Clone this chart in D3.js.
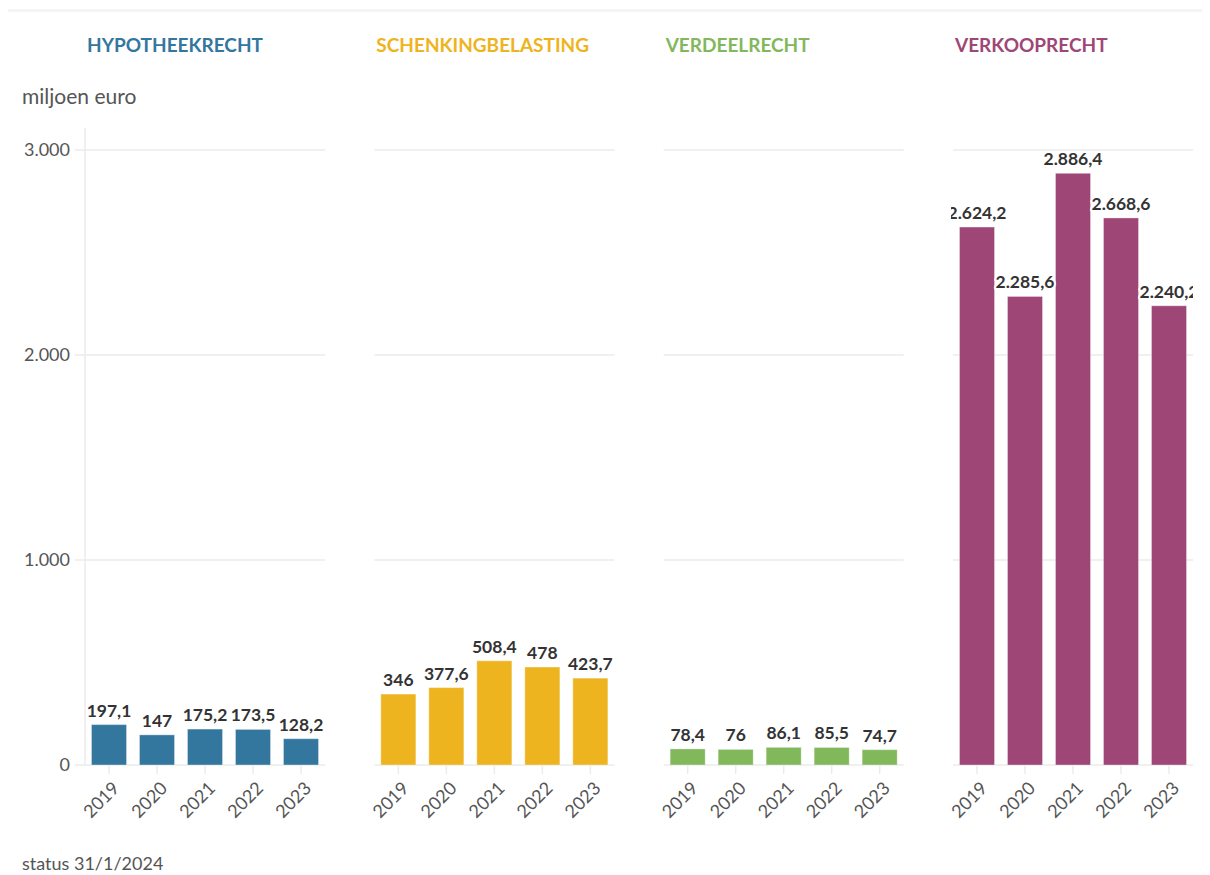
<!DOCTYPE html>
<html>
<head>
<meta charset="utf-8">
<script src="https://cdn.jsdelivr.net/npm/d3@7"></script>
<style>
  body { margin: 0; background: #fff; font-family: Lato, "Noto Sans", sans-serif; }
  .grid line { stroke: #ebebeb; stroke-width: 1.5; }
  .tick-label { fill: #555; font-size: 18px; }
  .bar-label { fill: #333; font-size: 17.5px; font-weight: bold; paint-order: stroke; stroke: #fff; stroke-width: 4px; stroke-linejoin: round; }
</style>
</head>
<body>
<div id="chart"></div>
<script>
// categories and values
var years = ["2019", "2020", "2021", "2022", "2023"];
var panels = ["HYPOTHEEKRECHT", "SCHENKINGBELASTING", "VERDEELRECHT", "VERKOOPRECHT"];
var colors = ["#33779f", "#eeb420", "#82b85c", "#9e4777"];
var hypotheekrecht = [197.1, 147, 175.2, 173.5, 128.2];
var schenkingbelasting = [346, 377.6, 508.4, 478, 423.7];
var verdeelrecht = [78.4, 76, 86.1, 85.5, 74.7];
var verkooprecht = [2624.2, 2285.6, 2886.4, 2668.6, 2240.2];
var seriesValues = [hypotheekrecht, schenkingbelasting, verdeelrecht, verkooprecht];
var yTicks = [0, 1000, 2000, 3000];

var width = 1210;
var height = 875;

var nl = d3.formatLocale({decimal: ",", thousands: ".", grouping: [3], currency: ["€", ""]});
var fmtTick = nl.format(",.0f");
var fmtVal = function(v) { return nl.format(",")(v); };

var svg = d3.select("#chart").append("svg")
    .attr("width", width)
    .attr("height", height);

// faint top rule
svg.append("rect")
    .attr("x", 8).attr("y", 9)
    .attr("width", 1194).attr("height", 3)
    .attr("fill", "#f4f4f4");

var panelW = 240;
var px = d3.scaleLinear().domain([0, 3]).range([85, 953]);

var y = d3.scaleLinear()
    .domain([0, 3000])
    .range([765, 150]);

var x = d3.scaleBand()
    .domain(years)
    .range([0, panelW])
    .paddingInner(0.27)
    .paddingOuter(0.135);

// y axis label
svg.append("text")
    .attr("x", 22).attr("y", 104)
    .attr("fill", "#555")
    .style("font-size", "21px")
    .text("miljoen euro");

// y axis line and ticks (left of first panel)
svg.append("line")
    .attr("x1", 85).attr("x2", 85)
    .attr("y1", 128).attr("y2", 765)
    .attr("stroke", "#ebebeb").attr("stroke-width", 1.5);

svg.selectAll(".ytick").data(yTicks).enter().append("line")
    .attr("x1", 75).attr("x2", 85)
    .attr("y1", function(d) { return y(d); })
    .attr("y2", function(d) { return y(d); })
    .attr("stroke", "#ebebeb").attr("stroke-width", 1.5);

svg.selectAll(".ylab").data(yTicks).enter().append("text")
    .attr("class", "tick-label")
    .attr("x", 70)
    .attr("y", function(d) { return y(d); })
    .attr("dy", "0.35em")
    .attr("text-anchor", "end")
    .text(function(d) { return fmtTick(d); });

var defs = svg.append("defs");

panels.forEach(function(name, i) {
    var x0 = px(i);
    var vals = seriesValues[i];
    var g = svg.append("g").attr("transform", "translate(" + x0 + ",0)");

    // panel title
    g.append("text")
        .attr("x", 2).attr("y", 52)
        .attr("fill", colors[i])
        .style("font-size", "19px")
        .style("font-weight", "bold")
        .text(name);

    // gridlines
    g.append("g").attr("class", "grid")
        .selectAll("line").data(yTicks).enter().append("line")
        .attr("x1", 0).attr("x2", panelW)
        .attr("y1", function(d) { return y(d); })
        .attr("y2", function(d) { return y(d); });

    // x ticks
    g.selectAll(".xtick").data(years).enter().append("line")
        .attr("x1", function(d) { return x(d) + x.bandwidth() / 2; })
        .attr("x2", function(d) { return x(d) + x.bandwidth() / 2; })
        .attr("y1", 765).attr("y2", 774)
        .attr("stroke", "#ebebeb").attr("stroke-width", 1.5);

    // bars
    g.selectAll(".bar").data(vals).enter().append("rect")
        .attr("x", function(d, j) { return x(years[j]); })
        .attr("y", function(d) { return y(d); })
        .attr("width", x.bandwidth())
        .attr("height", function(d) { return y(0) - y(d); })
        .attr("fill", colors[i])
        .attr("stroke", "rgba(255,255,255,0.35)")
        .attr("stroke-width", 1);

    // year labels
    g.selectAll(".xlab").data(years).enter().append("text")
        .attr("class", "tick-label")
        .attr("text-anchor", "end")
        .attr("transform", function(d) {
            return "translate(" + (x(d) + x.bandwidth() / 2 + 7) + ",785) rotate(-45)";
        })
        .attr("dy", "0.35em")
        .text(function(d) { return d; });

    // value labels, clipped to the panel
    defs.append("clipPath").attr("id", "clip" + i)
        .append("rect")
        .attr("x", -2).attr("y", 0)
        .attr("width", panelW + 2).attr("height", height);

    g.append("g").attr("clip-path", "url(#clip" + i + ")")
        .selectAll(".bar-label").data(vals).enter().append("text")
        .attr("class", "bar-label")
        .attr("text-anchor", "middle")
        .attr("x", function(d, j) { return x(years[j]) + x.bandwidth() / 2; })
        .attr("y", function(d) { return y(d) - 8; })
        .text(function(d) { return fmtVal(d); });
});

// footnote
svg.append("text")
    .attr("x", 22).attr("y", 870)
    .attr("fill", "#555")
    .style("font-size", "18px")
    .text("status 31/1/2024");
</script>
</body>
</html>
